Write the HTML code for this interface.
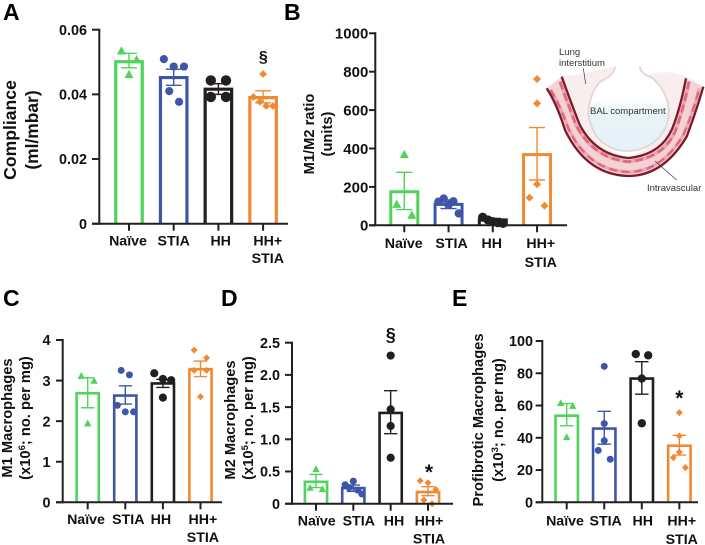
<!DOCTYPE html>
<html lang="en">
<head>
<meta charset="utf-8">
<title>Macrophage and compliance bar charts</title>
<style>
html,body{margin:0;padding:0;background:#fff;}
svg{display:block;}
text{font-family:"Liberation Sans",Arial,sans-serif;fill:#111;}
.letter{font-size:23px;font-weight:700;fill:#000;}
.title{font-weight:700;text-anchor:middle;fill:#111;}
.ill{font-size:9.5px;fill:#333;}
</style>
</head>
<body>
<svg id="fig" width="705" height="545" viewBox="0 0 705 545" xmlns="http://www.w3.org/2000/svg">
  <defs>
    <linearGradient id="balGrad" x1="0" y1="0" x2="0" y2="1">
      <stop offset="0" stop-color="#ffffff"/>
      <stop offset="0.33" stop-color="#ffffff"/>
      <stop offset="0.55" stop-color="#e8f3f9"/>
      <stop offset="1" stop-color="#e6f1f8"/>
    </linearGradient>
  </defs>

  <text class="letter" x="3" y="20">A</text>
  <text class="letter" x="284" y="20">B</text>
  <text class="letter" x="3" y="306">C</text>
  <text class="letter" x="221" y="306">D</text>
  <text class="letter" x="452" y="306">E</text>

  <text class="title" font-size="17.6" transform="translate(16 130) rotate(-90)">Compliance</text>
  <text class="title" font-size="17.4" transform="translate(38 130) rotate(-90)">(ml/mbar)</text>

  <text class="title" font-size="14.7" transform="translate(314 134) rotate(-90)">M1/M2 ratio</text>
  <text class="title" font-size="14.7" transform="translate(332 134) rotate(-90)">(units)</text>

  <text class="title" font-size="14.7" transform="translate(12 418) rotate(-90)">M1 Macrophages</text>
  <text class="title" font-size="14.7" transform="translate(30 418) rotate(-90)">(x10<tspan font-size="9.5" dy="-5">6</tspan><tspan dy="5">; no. per mg)</tspan></text>

  <text class="title" font-size="14.7" transform="translate(235 420) rotate(-90)">M2 Macrophages</text>
  <text class="title" font-size="14.7" transform="translate(253 418) rotate(-90)">(x10<tspan font-size="9.5" dy="-5">5</tspan><tspan dy="5">; no. per mg)</tspan></text>

  <text class="title" font-size="14.7" transform="translate(483 420) rotate(-90)">Profibrotic Macrophages</text>
  <text class="title" font-size="14.7" transform="translate(503 420) rotate(-90)">(x10<tspan font-size="9.5" dy="-5">3</tspan><tspan dy="5">; no. per mg)</tspan></text>

  <g id="plots"></g>

  <g transform="translate(540 40) scale(0.3333)">
    <path fill="#f8eeee" d="M20 145 L65 110 Q140 100 225 80 Q215 105 175 130 Q145 170 145 225 Q155 300 215 335 L260 352 Q190 345 140 290 Q95 230 65 110 Z"/>
    <path fill="#f8eeee" d="M320 108 Q350 92 395 98 Q440 105 475 130 L438 115 Q420 230 385 285 Q340 340 265 352 Q350 325 380 235 Q390 165 340 112 Z"/>
    <path fill="url(#balGrad)" d="M205 105 Q150 145 145 215 Q150 290 205 322 Q260 345 320 318 Q385 280 387 210 Q385 150 330 110 Q265 85 205 105 Z"/>
    <path fill="none" stroke="#e2d9d4" stroke-width="6" stroke-linecap="round" d="M225 82 Q222 105 180 125 Q147 165 145 220 Q155 295 210 322 Q262 345 320 320 Q385 285 387 215 Q385 155 335 112 Q302 102 300 82"/>
    <path fill="#f4d2d6" d="M20 145 L65 110 Q95 190 120 255 Q165 345 265 354 Q360 345 395 270 Q420 210 438 115 L490 140 Q470 210 440 290 Q370 408 265 408 Q140 405 75 270 Q50 190 20 145 Z"/>
    <path fill="none" stroke="#eba9b3" stroke-width="11" d="M60 125 Q85 195 108 255 Q160 355 265 365 Q370 355 405 275 Q430 210 447 125"/>
    <path fill="none" stroke="#dc6a80" stroke-width="8" stroke-dasharray="24 12" d="M60 125 Q85 195 108 255 Q160 355 265 365 Q370 355 405 275 Q430 210 447 125"/>
    <path fill="none" stroke="#eba9b3" stroke-width="10" d="M32 150 Q60 195 85 265 Q145 392 265 396 Q365 395 430 285 Q462 210 478 145"/>
    <path fill="none" stroke="#dc6a80" stroke-width="7" stroke-dasharray="24 14" d="M32 150 Q60 195 85 265 Q145 392 265 396 Q365 395 430 285 Q462 210 478 145"/>
    <path fill="none" stroke="#7d1a2a" stroke-width="7" d="M65 110 Q92 185 118 252 Q165 345 265 354 Q360 345 395 270 Q420 210 438 115"/>
    <path fill="none" stroke="#7d1a2a" stroke-width="7" d="M20 145 Q50 190 75 270 Q140 405 265 408 Q370 408 440 290 Q470 210 490 140"/>
    <line x1="130" y1="85" x2="137" y2="132" stroke="#333" stroke-width="2"/>
    <line x1="345" y1="363" x2="410" y2="420" stroke="#333" stroke-width="2"/>
  </g>
  <text class="ill" x="559" y="55">Lung</text>
  <text class="ill" x="559" y="66">interstitium</text>
  <text class="ill" x="590" y="114">BAL compartment</text>
  <text class="ill" x="647" y="191">Intravascular</text>
</svg>

<script>
const categories = [['Naïve'], ['STIA'], ['HH'], ['HH+', 'STIA']];
const seriesColors = ['#4fd35a', '#3f56a8', '#231f20', '#f08a32'];
const seriesShapes = ['triangle', 'circle', 'circle', 'diamond'];

const ticksA = [0, 0.02, 0.04, 0.06];
const tickLabelsA = ['0', '0.02', '0.04', '0.06'];
const meansA = [0.0501, 0.0452, 0.0416, 0.039];
const errHighA = [0.0527, 0.0478, 0.0433, 0.0411];
const errLowA = [0.0482, 0.0428, 0.04, 0.0374];
const pointsA = [[0.0535, 0.0508, 0.0462], [0.0509, 0.0486, 0.0486, 0.041, 0.0377], [0.0443, 0.0443, 0.0392, 0.0392], [0.0463, 0.0392, 0.0377, 0.0364, 0.0364]];
const jitterA = [[-0.17, 0.17, 0], [-0.22, 0, 0.23, -0.1, 0.12], [-0.17, 0.17, -0.17, 0.17], [0, -0.22, -0.07, 0.07, 0.22]];

const ticksB = [0, 200, 400, 600, 800, 1000];
const tickLabelsB = ['0', '200', '400', '600', '800', '1000'];
const meansB = [175, 109, 28, 368];
const errHighB = [276, 132, 36, 509];
const errLowB = [82, 87, 18, 236];
const pointsB = [[370, 111, 54], [139, 123, 106, 125, 62], [42, 28, 19, 14, 10], [762, 635, 214, 144, 102]];
const jitterB = [[0, -0.17, 0.17], [-0.11, -0.23, 0, 0.11, 0.23], [-0.23, -0.11, 0, 0.11, 0.23], [0, 0, 0, -0.17, 0.17]];

const ticksC = [0, 1, 2, 3, 4];
const tickLabelsC = ['0', '1', '2', '3', '4'];
const meansC = [2.69, 2.63, 2.93, 3.28];
const errHighC = [3.07, 2.87, 3.03, 3.48];
const errLowC = [2.33, 2.42, 2.83, 3.1];
const pointsC = [[3.12, 3.0, 1.95], [3.25, 3.14, 2.39, 2.23, 2.23], [3.18, 3.04, 3.01, 2.58], [3.75, 3.56, 3.25, 3.25, 2.6]];
const jitterC = [[-0.17, 0.17, 0], [-0.11, 0.11, -0.21, 0, 0.22], [-0.23, 0, 0.22, 0], [-0.17, 0.16, -0.17, 0.16, 0]];

const ticksD = [0, 0.5, 1, 1.5, 2, 2.5];
const tickLabelsD = ['0', '0.5', '1.0', '1.5', '2.0', '2.5'];
const meansD = [0.34, 0.243, 1.41, 0.18];
const errHighD = [0.455, 0.29, 1.755, 0.264];
const errLowD = [0.25, 0.19, 1.087, 0.124];
const pointsD = [[0.54, 0.25, 0.23], [0.295, 0.35, 0.25, 0.21, 0.15], [2.3, 1.465, 1.206, 0.714], [0.357, 0.326, 0.22, 0.057, 0]];
const jitterD = [[0, -0.16, 0.17], [-0.22, 0, -0.11, 0.12, 0.23], [0, 0, 0, 0], [-0.21, 0, 0.21, -0.11, 0.11]];

const ticksE = [0, 20, 40, 60, 80, 100];
const tickLabelsE = ['0', '20', '40', '60', '80', '100'];
const meansE = [53.7, 45.7, 76.7, 35.1];
const errHighE = [61.2, 56.4, 87.2, 41.5];
const errLowE = [47.5, 36, 67, 29.3];
const pointsE = [[61.6, 59.9, 40.5], [84.3, 48.8, 38.2, 32.2, 26.7], [91.9, 91.1, 76.7, 49], [55.6, 41.1, 31.2, 27.7, 21.5]];
const jitterE = [[-0.16, 0.16, 0], [0, 0, 0, -0.16, 0.16], [-0.16, 0.17, 0, 0], [0, 0, 0, -0.16, 0.16]];

const panels = [
  {id: 'a', ticks: ticksA, tickLabels: tickLabelsA, means: meansA, hi: errHighA, lo: errLowA, points: pointsA, jitter: jitterA,
   axisX: 99.3, y0: 223.7, yTop: 29.7, xStart: 92, xEnd: 288, first: 129, band: 44.7, barW: 26.5, barS: 3.2,
   tickX: 87, tickFont: 14.4, labelDx: [-1, 0, 2.3, 4.7], labelY: 245.7, labelY2: 263, sizes: [4.5, 4.1, 5.2, 3.9],
   notes: [{text: '§', cat: 3, x: 263.3, y: 62, size: 16}]},
  {id: 'b', ticks: ticksB, tickLabels: tickLabelsB, means: meansB, hi: errHighB, lo: errLowB, points: pointsB, jitter: jitterB,
   axisX: 375.3, y0: 225.3, yTop: 33.3, xStart: 369, xEnd: 567, first: 404.3, band: 44.25, barW: 27, barS: 3,
   tickX: 368.3, tickFont: 15, labelDx: [-0.6, 3, -1, 3.7], labelY: 248, labelY2: 267, sizes: [4.5, 4.2, 4.6, 4],
   notes: []},
  {id: 'c', ticks: ticksC, tickLabels: tickLabelsC, means: meansC, hi: errHighC, lo: errLowC, points: pointsC, jitter: jitterC,
   axisX: 62.7, y0: 502.3, yTop: 340, xStart: 56, xEnd: 222, first: 87.7, band: 37.6, barW: 22.2, barS: 2.6,
   tickX: 50.5, tickFont: 14.4, labelDx: [-1.7, 3, -2, 2.4], labelY: 524, labelY2: 542, sizes: [3.7, 3.5, 4.1, 3.5],
   notes: []},
  {id: 'd', ticks: ticksD, tickLabels: tickLabelsD, means: meansD, hi: errHighD, lo: errLowD, points: pointsD, jitter: jitterD,
   axisX: 292, y0: 503.7, yTop: 342.7, xStart: 285, xEnd: 453, first: 316, band: 37.33, barW: 22.2, barS: 2.6,
   tickX: 280, tickFont: 14.4, labelDx: [0.7, 5.4, 3.3, 1], labelY: 525.7, labelY2: 543.7, sizes: [3.7, 3.5, 4.1, 3.5],
   notes: [{text: '§', cat: 2, x: 390.7, y: 341, size: 18}, {text: '*', cat: 3, x: 429, y: 479, size: 21}]},
  {id: 'e', ticks: ticksE, tickLabels: tickLabelsE, means: meansE, hi: errHighE, lo: errLowE, points: pointsE, jitter: jitterE,
   axisX: 542.3, y0: 502.3, yTop: 341, xStart: 535.7, xEnd: 698, first: 566.7, band: 37.55, barW: 22.4, barS: 2.6,
   tickX: 533, tickFont: 14.4, labelDx: [-1.7, 1.4, 1, 2.4], labelY: 525.7, labelY2: 544, sizes: [3.7, 3.5, 4.2, 3.5],
   notes: [{text: '*', cat: 3, x: 679.3, y: 405, size: 21}]}
];

const NS = 'http://www.w3.org/2000/svg';
const root = document.getElementById('plots');
const AXIS = '#231f20';

function make(tag, parent, attrs) {
  const n = document.createElementNS(NS, tag);
  for (const k in attrs) n.setAttribute(k, attrs[k]);
  parent.appendChild(n);
  return n;
}

function drawPanel(p) {
  const yScale = v => p.y0 - (v / p.ticks[p.ticks.length - 1]) * (p.y0 - p.yTop);
  const xScale = i => p.first + i * p.band;

  const g = make('g', root, {});
  
  

  p.means.forEach((m, i) => {
    const c = seriesColors[i];
    const left = xScale(i) - p.barW / 2;
    const right = xScale(i) + p.barW / 2;
    const bar = make('path', g, {d: 'M' + left + ' ' + p.y0 + 'V' + yScale(m) + 'H' + right + 'V' + p.y0, fill: '#fff', stroke: c, 'stroke-width': p.barS});
    
    

    const eh = yScale(p.hi[i]);
    const el = yScale(p.lo[i]);
    const cap = p.barW * 0.3;
    const err = make('path', g, {d: 'M' + xScale(i) + ' ' + eh + 'V' + el + 'M' + (xScale(i) - cap) + ' ' + eh + 'H' + (xScale(i) + cap) + 'M' + (xScale(i) - cap) + ' ' + el + 'H' + (xScale(i) + cap), fill: 'none', stroke: c, 'stroke-width': 1.4});
    
    

    p.points[i].forEach((v, j) => {
      const px = xScale(i) + p.jitter[i][j] * p.band;
      const py = yScale(v);
      const s = p.sizes[i];
      let mark;
      if (seriesShapes[i] === 'circle') {
        mark = make('circle', g, {cx: px, cy: py, r: s, fill: c});
      } else if (seriesShapes[i] === 'triangle') {
        mark = make('polygon', g, {points: px + ',' + (py - s) + ' ' + (px + s) + ',' + (py + s * 0.85) + ' ' + (px - s) + ',' + (py + s * 0.85), fill: c});
      } else {
        mark = make('polygon', g, {points: px + ',' + (py - s) + ' ' + (px + s) + ',' + py + ' ' + px + ',' + (py + s) + ' ' + (px - s) + ',' + py, fill: c});
      }
      
      
    });
  });

  const yAxis = make('line', g, {x1: p.axisX, y1: p.yTop - 1, x2: p.axisX, y2: p.y0 + 1, stroke: AXIS, 'stroke-width': 2});
  
  

  const xAxis = make('line', g, {x1: p.xStart, y1: p.y0, x2: p.xEnd, y2: p.y0, stroke: AXIS, 'stroke-width': 2});
  
  

  p.ticks.forEach((t, i) => {
    const y = yScale(t);
    const tick = make('line', g, {x1: p.xStart, y1: y, x2: p.axisX, y2: y, stroke: AXIS, 'stroke-width': 2});
    
    

    const lab = make('text', g, {x: p.tickX, y: y + p.tickFont * 0.36, 'text-anchor': 'end', 'font-size': p.tickFont, 'font-weight': 700});
    lab.textContent = p.tickLabels[i];
    
    
  });

  categories.forEach((lines, i) => {
    const tick = make('line', g, {x1: xScale(i), y1: p.y0, x2: xScale(i), y2: p.y0 + 7, stroke: AXIS, 'stroke-width': 2});
    
    

    lines.forEach((line, k) => {
      const lab = make('text', g, {x: xScale(i) + p.labelDx[i], y: k === 0 ? p.labelY : p.labelY2, 'text-anchor': 'middle', 'font-size': 14.2, 'font-weight': 700});
      lab.textContent = line;
      
      
    });
  });

  p.notes.forEach((nt, i) => {
    const note = make('text', g, {x: nt.x, y: nt.y, 'text-anchor': 'middle', 'font-size': nt.size, 'font-weight': 700, fill: '#111'});
    note.textContent = nt.text;
    
    
  });
}

panels.forEach(drawPanel);
</script>
</body>
</html>
